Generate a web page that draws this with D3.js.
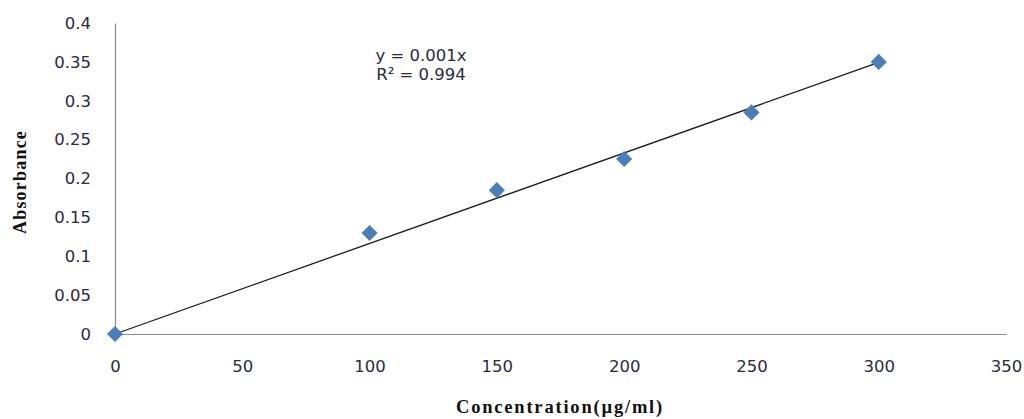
<!DOCTYPE html>
<html><head><meta charset="utf-8">
<script src="https://cdn.jsdelivr.net/npm/d3@7"></script>
<style>
html,body{margin:0;padding:0;background:#fff;}
svg{display:block;}
</style></head>
<body>
<svg id="chart" width="1024" height="419"></svg>
<script>
const concentrations = [0, 100, 150, 200, 250, 300];
const absorbance = [0, 0.13, 0.185, 0.225, 0.285, 0.35];
const xTicks = [0, 50, 100, 150, 200, 250, 300, 350];
const yTicks = [0, 0.05, 0.1, 0.15, 0.2, 0.25, 0.3, 0.35, 0.4];
const yTickLabels = ["0", "0.05", "0.1", "0.15", "0.2", "0.25", "0.3", "0.35", "0.4"];
const equationLines = ["y = 0.001x", "R² = 0.994"];

const svg = d3.select("#chart");
const x = d3.scaleLinear().domain([0, 350]).range([115, 1006]);
const y = d3.scaleLinear().domain([0, 0.4]).range([334, 23]);
const labelFont = "'DejaVu Sans', Verdana, sans-serif";
const labelColor = "#2b2b3b";
const labelSize = 16.5;

const yAxis = d3.axisLeft(y).tickValues(yTicks).tickSize(0).tickPadding(24)
  .tickFormat((d, i) => yTickLabels[i]);
const gy = svg.append("g").attr("transform", "translate(115,0)").call(yAxis);
gy.select(".domain").attr("stroke", "#8a8a8a").attr("stroke-width", 1.2);
gy.selectAll("text").attr("font-family", labelFont).attr("font-size", labelSize)
  .attr("fill", labelColor);

const xAxis = d3.axisBottom(x).tickValues(xTicks).tickSize(0).tickPadding(26)
  .tickFormat(d3.format("d"));
const gx = svg.append("g").attr("transform", "translate(0,334)").call(xAxis);
gx.select(".domain").attr("stroke", "#8a8a8a").attr("stroke-width", 1.2);
gx.selectAll("text").attr("font-family", labelFont).attr("font-size", labelSize)
  .attr("fill", labelColor);

// trendline (least squares through origin)
const slope = d3.sum(concentrations, (c, i) => c * absorbance[i]) /
              d3.sum(concentrations, c => c * c);
const xMax = d3.max(concentrations);
svg.append("line")
  .attr("x1", x(0)).attr("y1", y(0))
  .attr("x2", x(xMax)).attr("y2", y(slope * xMax))
  .attr("stroke", "#1a1a1a").attr("stroke-width", 1.3);

// markers
const diamond = d3.symbol().type(d3.symbolDiamond2).size(165);
svg.append("g").selectAll("path").data(concentrations).join("path")
  .attr("d", diamond)
  .attr("transform", (d, i) => `translate(${x(d)},${y(absorbance[i])})`)
  .attr("fill", "#4a7ebb");

// equation
svg.append("g").selectAll("text").data(equationLines).join("text")
  .attr("x", 421).attr("y", (d, i) => 61 + i * 18.5)
  .attr("text-anchor", "middle")
  .attr("font-family", labelFont).attr("font-size", labelSize)
  .attr("fill", labelColor)
  .text(d => d);

// axis titles
svg.append("text")
  .attr("transform", "translate(26,182) rotate(-90)")
  .attr("text-anchor", "middle")
  .attr("font-family", "'Liberation Serif', 'Times New Roman', serif")
  .attr("font-weight", "bold").attr("font-size", 18)
  .attr("letter-spacing", 1.2)
  .attr("fill", "#111")
  .text("Absorbance");

svg.append("text")
  .attr("x", 560).attr("y", 413)
  .attr("text-anchor", "middle")
  .attr("font-family", "'Liberation Serif', 'Times New Roman', serif")
  .attr("font-weight", "bold").attr("font-size", 18.5)
  .attr("letter-spacing", 1.8)
  .attr("fill", "#111")
  .text("Concentration(µg/ml)");
</script>
</body></html>
